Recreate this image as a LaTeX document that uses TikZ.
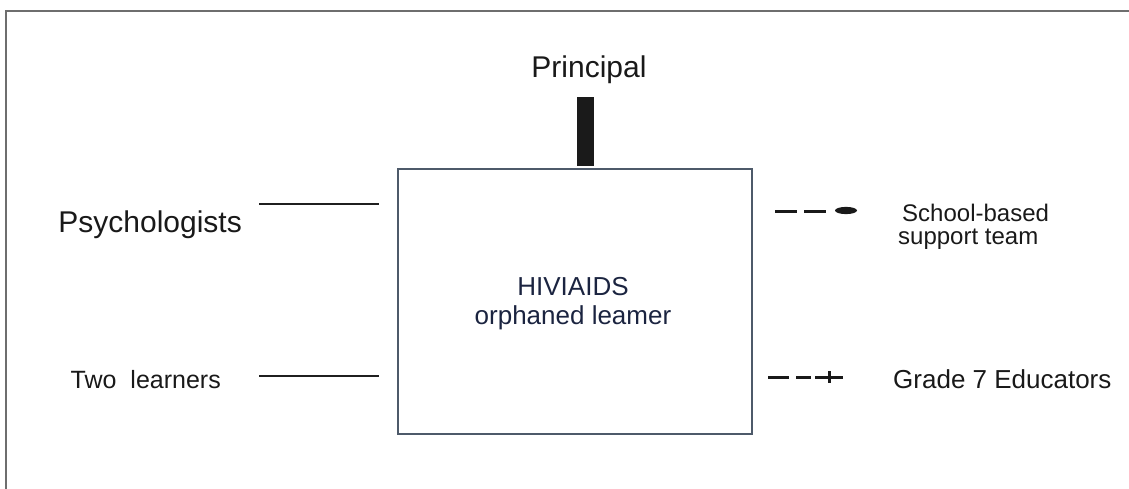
\documentclass[tikz,border=0pt]{standalone}
\usepackage{fontspec}
\setmainfont{Liberation Sans}
\definecolor{framegrey}{HTML}{6E6E6E}
\definecolor{boxedge}{HTML}{4E5A6A}
\definecolor{navytext}{HTML}{1B2440}
\definecolor{bar}{HTML}{1A1A1A}
\begin{document}
\begin{tikzpicture}[x=1pt,y=-1pt,
  lbl/.style={inner sep=0pt, text=black!90},
  rel/.style={line width=2.2pt, draw=black!88},
  dsh/.style={line width=3pt, draw=black!90}]
\useasboundingbox (0,0) rectangle (1129,489);
% outer frame (top and left only)
\draw[framegrey, line width=2.5pt] (6,489) -- (6,11) -- (1129,11);
% central box
\node[draw=boxedge, line width=2pt, minimum width=354pt, minimum height=265pt, inner sep=0pt, anchor=north west] (learner) at (397,168) {};
\node[inner sep=0pt, align=center, text=navytext, font=\fontsize{26}{29}\selectfont, anchor=base] (ltext) at (573,324) {HIVIAIDS\\orphaned leamer};
% principal
\node[lbl, font=\fontsize{30}{34}\selectfont, anchor=base] (principal) at (589,78) {Principal};
\node[fill=bar, minimum width=17pt, minimum height=69pt, inner sep=0pt, anchor=north west] (pbar) at (577,97) {};
% psychologists
\node[lbl, font=\fontsize{30}{34}\selectfont, anchor=base east] (psych) at (242,232) {Psychologists};
\coordinate (p1) at (259,204);
\coordinate (p2) at (379,204);
\draw[rel] (p1) -- (p2);
% two learners
\node[lbl, font=\fontsize{25}{28}\selectfont, anchor=base east] (two) at (221,388) {Two\ \ learners};
\coordinate (t1) at (259,376);
\coordinate (t2) at (379,376);
\draw[rel] (t1) -- (t2);
% school-based support team
\node[lbl, font=\fontsize{24}{24}\selectfont, anchor=base west] (sb1) at (902,221) {School-based};
\node[lbl, font=\fontsize{24}{24}\selectfont, anchor=base west] (sb2) at (898,244) {support team};
\coordinate (s1) at (775,211);
\coordinate (s2) at (826,211);
\draw[dsh, dash pattern=on 22pt off 7pt] (s1) -- (s2);
\fill[black!90] (846,210.5) ellipse [x radius=11pt, y radius=3.6pt];
% grade 7 educators
\node[lbl, font=\fontsize{26}{28}\selectfont, anchor=base west] (g7) at (893,388) {Grade 7 Educators};
\coordinate (g1) at (768,377);
\coordinate (g2) at (843,377);
\draw[dsh] (g1) -- (789,377);
\draw[dsh] (796,377) -- (811,377);
\draw[dsh] (815,377) -- (g2);
\draw[line width=3pt, black!90] (829,371) -- (829,383);
\end{tikzpicture}
\end{document}
